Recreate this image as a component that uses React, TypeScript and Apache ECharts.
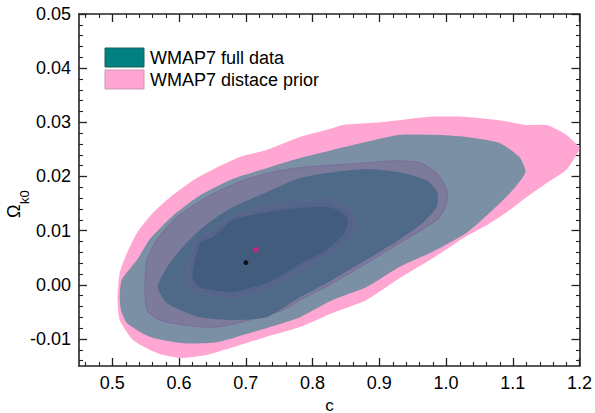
import React, { useEffect, useRef } from "react";
import * as echarts from "echarts";

// axis extents
const xRange: [number, number] = [0.45, 1.2];
const yRange: [number, number] = [-0.015, 0.05];

// tick values
const xMajor = [0.5, 0.6, 0.7, 0.8, 0.9, 1.0, 1.1, 1.2];
const xMinor = [
  0.46, 0.48, 0.52, 0.54, 0.56, 0.58, 0.62, 0.64, 0.66, 0.68, 0.72, 0.74, 0.76, 0.78, 0.82,
  0.84, 0.86, 0.88, 0.92, 0.94, 0.96, 0.98, 1.02, 1.04, 1.06, 1.08, 1.12, 1.14, 1.16, 1.18,
];
const yMajor = [-0.01, 0.0, 0.01, 0.02, 0.03, 0.04, 0.05];
const yMinor = [
  -0.014, -0.012, -0.008, -0.006, -0.004, -0.002, 0.002, 0.004, 0.006, 0.008, 0.012, 0.014,
  0.016, 0.018, 0.022, 0.024, 0.026, 0.028, 0.032, 0.034, 0.036, 0.038, 0.042, 0.044, 0.046,
  0.048,
];

// WMAP7 distance prior, outer (2 sigma) contour
const priorOuter: [number, number][] = [
  [0.508, -0.0015], [0.511, 0.0022], [0.522, 0.0059], [0.537, 0.0096], [0.561, 0.0133],
  [0.591, 0.0166], [0.621, 0.0193], [0.657, 0.0217], [0.691, 0.0236], [0.731, 0.0249],
  [0.781, 0.0273], [0.830, 0.0289], [0.845, 0.0295], [0.890, 0.0299], [0.930, 0.0304],
  [0.971, 0.031], [1.031, 0.031], [1.080, 0.0304], [1.121, 0.0295], [1.151, 0.0295],
  [1.180, 0.0277], [1.200, 0.0253], [1.197, 0.0243], [1.180, 0.0212], [1.151, 0.0188],
  [1.121, 0.0162], [1.091, 0.0134], [1.061, 0.011], [1.031, 0.009], [0.980, 0.0049],
  [0.930, 0.0012], [0.881, -0.0028], [0.830, -0.0052], [0.781, -0.0078], [0.731, -0.0096],
  [0.676, -0.0117], [0.639, -0.013], [0.601, -0.0135], [0.567, -0.0126], [0.531, -0.0102],
  [0.511, -0.0065], [0.508, -0.0037],
];

// WMAP7 full data, outer (2 sigma) contour
const fullOuter: [number, number][] = [
  [0.511, -0.0023], [0.514, 0.0009], [0.537, 0.0046], [0.556, 0.0084], [0.591, 0.0128],
  [0.631, 0.0165], [0.681, 0.0196], [0.731, 0.0215], [0.781, 0.0234], [0.830, 0.0249],
  [0.881, 0.0264], [0.930, 0.0277], [0.980, 0.0277], [1.031, 0.0273], [1.080, 0.0262],
  [1.110, 0.0236], [1.119, 0.0208], [1.100, 0.0175], [1.070, 0.0138], [1.031, 0.0096],
  [0.980, 0.0061], [0.930, 0.0033], [0.881, -0.0004], [0.830, -0.0028], [0.781, -0.006],
  [0.755, -0.0071], [0.706, -0.0089], [0.657, -0.0106], [0.606, -0.0108], [0.556, -0.0096],
  [0.522, -0.0071], [0.513, -0.0047],
];

// WMAP7 distance prior, inner (1 sigma) contour
const priorInner: [number, number][] = [
  [0.549, -0.0004], [0.552, 0.0046], [0.567, 0.0083], [0.597, 0.0125], [0.642, 0.0162],
  [0.691, 0.019], [0.740, 0.0208], [0.781, 0.0216], [0.830, 0.0221], [0.881, 0.0225],
  [0.926, 0.0229], [0.961, 0.0225], [0.986, 0.0206], [1.001, 0.0175], [1.001, 0.0151],
  [0.990, 0.0125], [0.971, 0.0107], [0.930, 0.0077], [0.881, 0.004], [0.830, 0.0003],
  [0.781, -0.0028], [0.755, -0.0047], [0.706, -0.0065], [0.657, -0.0078], [0.606, -0.0074],
  [0.571, -0.0065], [0.552, -0.0047],
];

// WMAP7 full data, inner (1 sigma) contour
const fullInner: [number, number][] = [
  [0.568, -0.0004], [0.582, 0.0033], [0.606, 0.007], [0.631, 0.0101], [0.654, 0.0123],
  [0.681, 0.0144], [0.731, 0.0171], [0.781, 0.0197], [0.830, 0.0208], [0.881, 0.0214],
  [0.930, 0.0208], [0.971, 0.0193], [0.987, 0.0171], [0.986, 0.0144], [0.965, 0.0114],
  [0.930, 0.0083], [0.881, 0.0046], [0.830, 0.0009], [0.781, -0.0023], [0.731, -0.006],
  [0.681, -0.0065], [0.631, -0.006], [0.582, -0.0034],
];

// innermost core contours
const coreRing: [number, number][] = [
  [0.613, 0.0024], [0.624, 0.0077], [0.646, 0.0097], [0.681, 0.0127], [0.731, 0.0145],
  [0.781, 0.0153], [0.821, 0.0158], [0.851, 0.0144], [0.863, 0.0125], [0.859, 0.0096],
  [0.829, 0.0059], [0.785, 0.0031], [0.736, -0.0004], [0.681, -0.0023], [0.646, -0.0019],
  [0.624, -0.0012], [0.613, 0.0005],
];
const core: [number, number][] = [
  [0.621, 0.0027], [0.631, 0.0077], [0.650, 0.0088], [0.681, 0.012], [0.731, 0.0134],
  [0.781, 0.0142], [0.821, 0.0144], [0.841, 0.0136], [0.853, 0.012], [0.848, 0.0096],
  [0.821, 0.0064], [0.781, 0.0038], [0.731, 0.0003], [0.681, -0.0013], [0.650, -0.001],
  [0.631, -0.0004], [0.621, 0.0009],
];

// best-fit points
const bestFull: [number, number][] = [[0.7, 0.0041]];
const bestPrior: [number, number][] = [[0.715, 0.0065]];

const legendLabels = ["WMAP7 full data", "WMAP7 distace prior"];

const FONT = "Liberation Sans, Arial, sans-serif";
const AX = "#222";

function polySeries(pts: [number, number][], fill: string, stroke?: string) {
  return {
    type: "custom",
    silent: true,
    clip: true,
    xAxisIndex: 0,
    yAxisIndex: 0,
    data: [pts[0]],
    renderItem: (_p: any, api: any) => ({
      type: "polygon",
      shape: { points: pts.map((p) => api.coord(p)), smooth: 0.2 },
      style: {
        fill,
        stroke: stroke || "none",
        lineWidth: stroke ? 1.2 : 0,
      },
    }),
  };
}

function xAxisDef(pos: "bottom" | "top", grid: number, major: boolean, labels: boolean) {
  return {
    type: "value",
    gridIndex: grid,
    position: pos,
    min: xRange[0],
    max: xRange[1],
    splitNumber: 8,
    axisLine: { show: major, onZero: false, lineStyle: { color: AX, width: 1.6 } },
    axisTick: {
      show: true,
      inside: true,
      length: major ? 8 : 4,
      customValues: major ? xMajor : xMinor,
      lineStyle: { color: AX, width: major ? 1.3 : 1.1 },
    },
    minorTick: { show: false },
    splitLine: { show: false },
    axisLabel: {
      show: labels,
      customValues: xMajor,
      fontSize: 18,
      fontFamily: FONT,
      color: "#000",
      margin: 8,
      formatter: (v: number) => v.toFixed(1),
    },
  };
}

function yAxisDef(pos: "left" | "right", grid: number, major: boolean, labels: boolean) {
  return {
    type: "value",
    gridIndex: grid,
    position: pos,
    min: yRange[0],
    max: yRange[1],
    splitNumber: 6,
    axisLine: { show: major, onZero: false, lineStyle: { color: AX, width: 1.6 } },
    axisTick: {
      show: true,
      inside: true,
      length: major ? 8 : 4,
      customValues: major ? yMajor : yMinor,
      lineStyle: { color: AX, width: major ? 1.3 : 1.1 },
    },
    minorTick: { show: false },
    splitLine: { show: false },
    axisLabel: {
      show: labels,
      customValues: yMajor,
      fontSize: 18,
      fontFamily: FONT,
      color: "#000",
      margin: 8,
      formatter: (v: number) => v.toFixed(2),
    },
  };
}

export default function App() {
  const ref = useRef<HTMLDivElement>(null);
  useEffect(() => {
    if (!ref.current) return;
    const chart = echarts.init(ref.current, undefined, { renderer: "svg" });
    const gridBox = { left: 79, right: 15, top: 14, bottom: 47, containLabel: false };
    chart.setOption({
      animation: false,
      backgroundColor: "#fff",
      grid: [gridBox, { ...gridBox }],
      xAxis: [
        xAxisDef("bottom", 0, true, true),
        xAxisDef("top", 0, true, false),
        xAxisDef("bottom", 1, false, false),
        xAxisDef("top", 1, false, false),
      ],
      yAxis: [
        yAxisDef("left", 0, true, true),
        yAxisDef("right", 0, true, false),
        yAxisDef("left", 1, false, false),
        yAxisDef("right", 1, false, false),
      ],
      series: [
        polySeries(priorOuter, "#ffa6d2"),
        polySeries(fullOuter, "#7b90a5"),
        polySeries(priorInner, "#7d7b9c", "#7a7099"),
        polySeries(fullInner, "#4e6a88"),
        polySeries(coreRing, "#55658a", "#5e6690"),
        polySeries(core, "#425c7e"),
        {
          type: "scatter",
          xAxisIndex: 0,
          yAxisIndex: 0,
          data: bestFull,
          symbolSize: 5,
          itemStyle: { color: "#000" },
          silent: true,
        },
        {
          type: "scatter",
          xAxisIndex: 0,
          yAxisIndex: 0,
          data: bestPrior,
          symbolSize: 5,
          itemStyle: { color: "#ff0a84" },
          silent: true,
        },
      ],
      graphic: [
        { type: "rect", shape: { x: 105, y: 48, width: 39, height: 19 }, style: { fill: "#008080", stroke: "#1d5f5f", lineWidth: 1 } },
        { type: "rect", shape: { x: 105, y: 70, width: 39, height: 19 }, style: { fill: "#ffa6d2", stroke: "#c99ab4", lineWidth: 1 } },
        { type: "text", x: 150, y: 57.5, style: { text: legendLabels[0], fontSize: 18, fontFamily: FONT, fill: "#000", align: "left", verticalAlign: "middle" } },
        { type: "text", x: 150, y: 80, style: { text: legendLabels[1], fontSize: 18, fontFamily: FONT, fill: "#000", align: "left", verticalAlign: "middle" } },
        { type: "text", x: 329.5, y: 405, style: { text: "c", fontSize: 17, fontFamily: FONT, fill: "#000", align: "center", verticalAlign: "middle" } },
        { type: "text", x: 14, y: 218, rotation: Math.PI / 2, style: { text: "Ω", fontSize: 18, fontFamily: FONT, fill: "#000", align: "left", verticalAlign: "middle" } },
        { type: "text", x: 24.5, y: 204, rotation: Math.PI / 2, style: { text: "k0", fontSize: 13, fontFamily: FONT, fill: "#000", align: "left", verticalAlign: "middle" } },
      ],
    });
    return () => chart.dispose();
  }, []);
  return <div ref={ref} style={{ position: "fixed", left: 0, top: 0, width: 595, height: 413 }} />;
}
